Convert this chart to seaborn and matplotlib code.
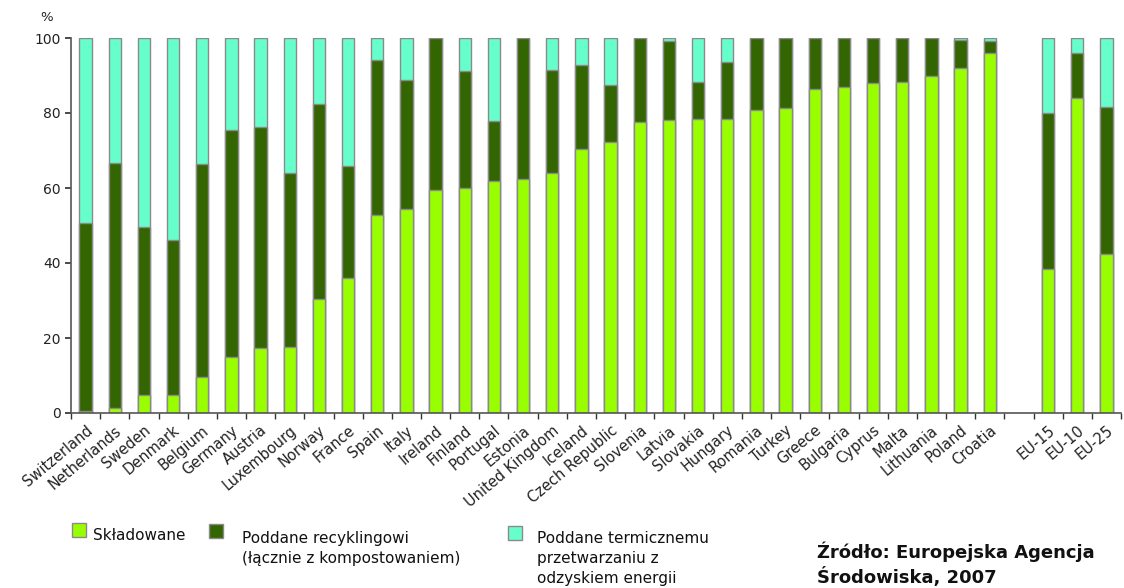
import pandas as pd
import numpy as np
import matplotlib.pyplot as plt
import matplotlib.patches as mpatches
import seaborn as sb

# dane (%), kolejnosc jak na osi
kraje = ["Switzerland", "Netherlands", "Sweden", "Denmark", "Belgium", "Germany",
         "Austria", "Luxembourg", "Norway", "France", "Spain", "Italy", "Ireland",
         "Finland", "Portugal", "Estonia", "United Kingdom", "Iceland",
         "Czech Republic", "Slovenia", "Latvia", "Slovakia", "Hungary", "Romania",
         "Turkey", "Greece", "Bulgaria", "Cyprus", "Malta", "Lithuania", "Poland",
         "Croatia", "EU-15", "EU-10", "EU-25"]

skladowane = [0.5, 1.3, 4.7, 4.7, 9.5, 14.9, 17.3, 17.7, 30.4, 35.9, 52.8, 54.3, 59.4,
              59.9, 61.9, 62.4, 63.9, 70.5, 72.3, 77.5, 78.1, 78.5, 78.5, 80.7,
              81.4, 86.5, 86.9, 88.0, 88.4, 89.9, 92.0, 96.0, 38.3, 84.0, 42.4]

recykling = [50.3, 65.5, 45.0, 41.4, 56.9, 60.5, 59.0, 46.4, 51.9, 30.0, 41.3, 34.4, 40.6,
             31.2, 15.9, 37.6, 27.5, 22.4, 15.1, 22.5, 21.1, 9.8, 15.1, 19.3,
             18.6, 13.5, 13.1, 12.0, 11.6, 10.1, 7.6, 3.2, 41.7, 12.1, 39.2]

termiczne = [49.2, 33.2, 50.3, 53.9, 33.6, 24.6, 23.7, 35.9, 17.7, 34.1, 5.9, 11.3, 0.0,
             8.9, 22.2, 0.0, 8.6, 7.1, 12.6, 0.0, 0.8, 11.7, 6.4, 0.0,
             0.0, 0.0, 0.0, 0.0, 0.0, 0.0, 0.4, 0.8, 20.0, 3.9, 18.4]

# pusta pozycja miedzy krajami a srednimi UE
porzadek = kraje[:32] + [" "] + kraje[32:]

df = pd.DataFrame({"kraj": kraje, "s": skladowane, "r": recykling, "t": termiczne})
df["s_r"] = df["s"] + df["r"]
df["razem"] = df["s_r"] + df["t"]

c_skl = "#99FF00"
c_rec = "#336600"
c_ter = "#66FFCC"
krawedz = "#8a8a8a"

sb.set_theme(style="ticks")
plt.rcParams['font.family'] = ['DejaVu Sans']

fig = plt.figure(figsize=(11.24, 5.88), dpi=100)
ax = fig.add_axes([71 / 1124, 1 - 413 / 588, 1050 / 1124, 375 / 588])

for kol, c in [("razem", c_ter), ("s_r", c_rec), ("s", c_skl)]:
    sb.barplot(data=df, x="kraj", y=kol, order=porzadek, color=c, width=0.42,
               edgecolor=krawedz, linewidth=1, saturation=1, ax=ax)

ax.set_ylim(0, 100)
ax.set_xlim(-0.5, len(porzadek) - 0.5)
ax.set_yticks([0, 20, 40, 60, 80, 100])
ax.set_ylabel("")
ax.set_xlabel("")
ax.set_xticks(range(len(porzadek)))
ax.set_xticklabels(porzadek, rotation=40, ha="right", rotation_mode="anchor",
                   fontsize=10.5, color="#222222")
ax.set_xticks(np.arange(len(porzadek) + 1) - 0.5, minor=True)
ax.tick_params(axis="x", which="major", length=0, pad=7)
ax.tick_params(axis="x", which="minor", length=4, color="#333333")
ax.tick_params(axis="y", length=4, labelsize=10, color="#333333", labelcolor="#222222")
sb.despine(ax=ax)
for s in ["left", "bottom"]:
    ax.spines[s].set_color("#555555")
    ax.spines[s].set_linewidth(1.2)

fig.text(0.036, 0.965, "%", fontsize=9.5, color="#222222")

# legenda pod wykresem
def kwadrat(x, y, c):
    fig.patches.append(mpatches.Rectangle((x / 1124, 1 - (y + 14) / 588), 14 / 1124, 14 / 588,
                                          transform=fig.transFigure, facecolor=c,
                                          edgecolor=krawedz, linewidth=1))

kwadrat(72, 523, c_skl)
kwadrat(209, 524, c_rec)
kwadrat(508, 526, c_ter)
fig.text(93 / 1124, 1 - 535 / 588, "Składowane", fontsize=11, va="center", color="#111111")
fig.text(242 / 1124, 1 - 531 / 588, "Poddane recyklingowi\n(łącznie z kompostowaniem)",
         fontsize=11, va="top", linespacing=1.4, color="#111111")
fig.text(537 / 1124, 1 - 531 / 588, "Poddane termicznemu\nprzetwarzaniu z\nodzyskiem energii",
         fontsize=11, va="top", linespacing=1.4, color="#111111")
fig.text(817 / 1124, 1 - 542 / 588, "Źródło: Europejska Agencja\nŚrodowiska, 2007",
         fontsize=13, fontweight="bold", va="top", linespacing=1.25, color="#111111")

plt.savefig("out.png", dpi=100)
